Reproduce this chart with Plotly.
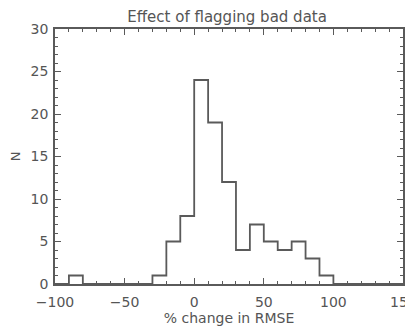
import plotly.graph_objects as go

bin_edges = [-100, -90, -80, -70, -60, -50, -40, -30, -20, -10, 0, 10, 20, 30, 40, 50, 60, 70, 80, 90, 100, 110, 120, 130, 140, 150]
counts = [0, 1, 0, 0, 0, 0, 0, 1, 5, 8, 24, 19, 12, 4, 7, 5, 4, 5, 3, 1, 0, 0, 0, 0, 0]

title_text = "Effect of flagging bad data"
x_title = "% change in RMSE"
y_title = "N"

LINE = "#5a5a5a"
TXT = "#555555"
FONT = "DejaVu Sans"

# step outline: y value held over each bin
ys = counts + [counts[-1]]

fig = go.Figure()
fig.add_trace(go.Scatter(x=bin_edges, y=ys, mode="lines", line_shape="hv",
                         line=dict(color=LINE, width=1.8), hoverinfo="skip",
                         showlegend=False, cliponaxis=False))

axis_common = dict(showgrid=False, zeroline=False, showline=True, linecolor=LINE,
                   linewidth=1.8, mirror="allticks", ticks="inside", tickcolor=LINE,
                   tickwidth=1, ticklen=6, automargin=False,
                   tickfont=dict(family=FONT, size=14, color=TXT))

fig.update_xaxes(range=[-100, 150], tick0=-100, dtick=50, ticklabelstandoff=4,
                 minor=dict(dtick=10, ticks="inside", ticklen=3, tickcolor=LINE, tickwidth=1),
                 title=dict(text=x_title, font=dict(family=FONT, size=14, color=TXT), standoff=0),
                 **axis_common)
fig.update_yaxes(range=[0, 30], tick0=0, dtick=5, ticklabelstandoff=2,
                 minor=dict(dtick=1, ticks="inside", ticklen=3, tickcolor=LINE, tickwidth=1),
                 title=dict(text=y_title, font=dict(family=FONT, size=13, color=TXT), standoff=12),
                 **axis_common)

# last x tick label sits on the right page edge (partly cut, as in the original)
fig.add_annotation(x=150, xref="x", y=0, yref="paper", yanchor="top", yshift=-8,
                   text="150", showarrow=False, xanchor="center",
                   font=dict(family=FONT, size=14, color=TXT))

# page body has an 8px margin, so figure is shrunk and margins shifted accordingly
fig.update_layout(
    width=405, height=319,
    margin=dict(l=47, r=10, t=21, b=43),
    paper_bgcolor="white", plot_bgcolor="white",
    title=dict(text=title_text, x=0.541, xanchor="center", y=0.972, yanchor="middle",
               font=dict(family=FONT, size=15, color=TXT)),
)

fig.write_html("out.html")
